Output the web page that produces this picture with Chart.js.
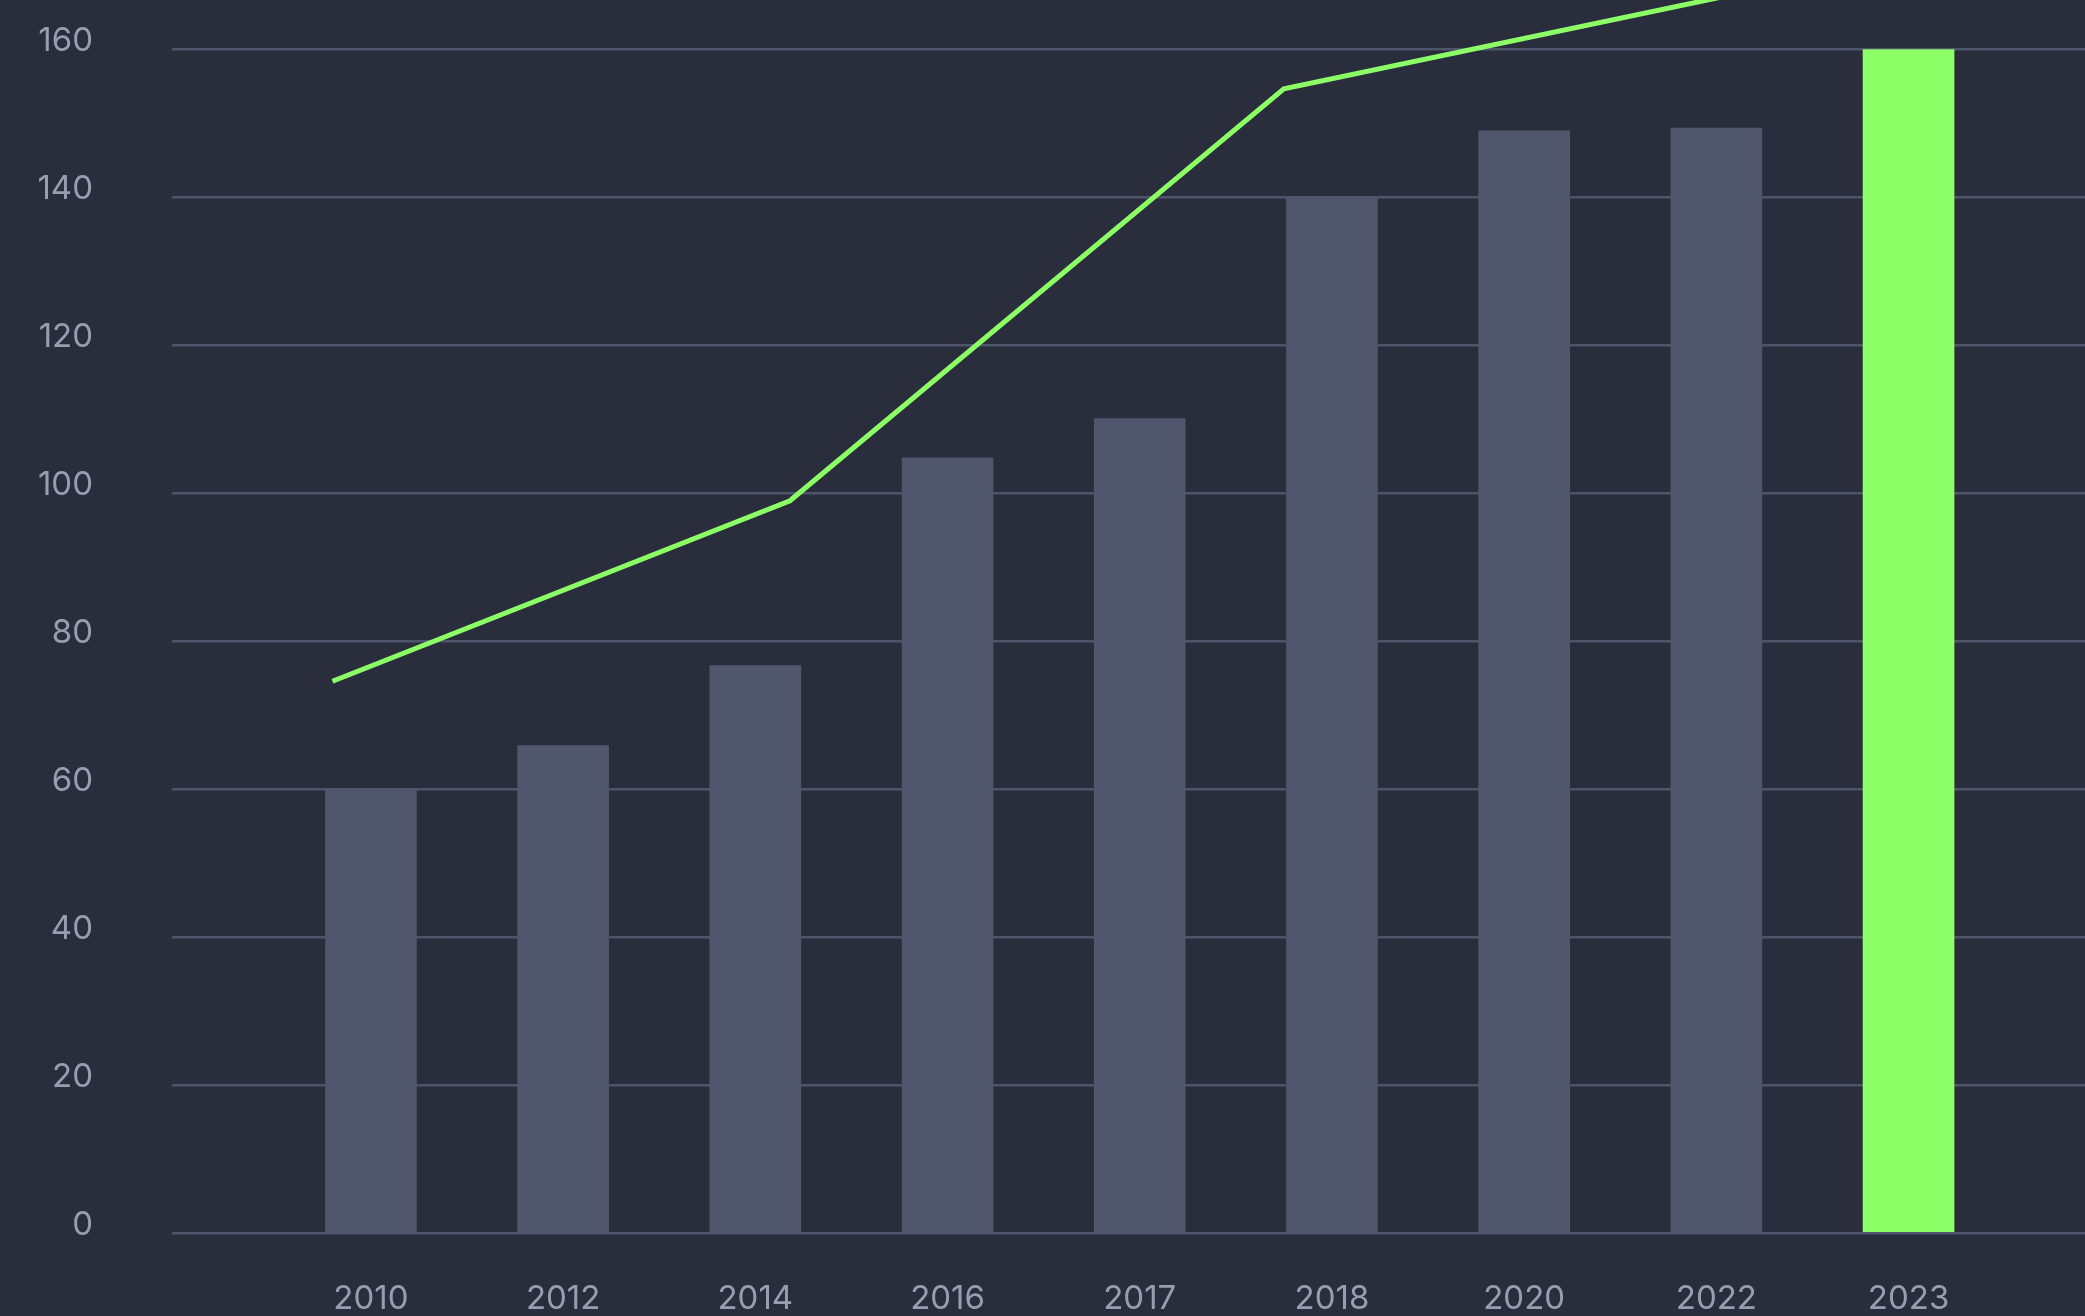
<!DOCTYPE html>
<html>
<head>
<meta charset="utf-8">
<script src="https://cdn.jsdelivr.net/npm/chart.js@4.4.0/dist/chart.umd.min.js"></script>
<style>
  html, body { margin: 0; padding: 0; background: #292d3c; }
  #wrap { width: 2085px; height: 1316px; position: relative; }
</style>
</head>
<body>
<div id="wrap"><canvas id="myChart"></canvas></div>
<script>
// categories and values
const years = ['2010', '2012', '2014', '2016', '2017', '2018', '2020', '2022', '2023'];
const barValues = [60, 65.9, 76.7, 104.8, 110.1, 139.9, 149.0, 149.4, 160];
// trend line, x given in category positions (0 = 2010 ... 8 = 2023)
const trendX = [-0.2, 2.18, 4.75, 8];
const trendValues = [74.6, 99.0, 154.7, 172.4];
const yTicks = [0, 20, 40, 60, 80, 100, 120, 140, 160];

const barColor = '#50566c';
const green = '#8cff66';
const gridColor = '#4f5569';
const labelColor = '#9a9db0';

Chart.defaults.font.family = 'Inter';
Chart.defaults.font.size = 33;
Chart.defaults.color = labelColor;

const ctx = document.getElementById('myChart');
const myChart = new Chart(ctx, {
    type: 'bar',
    data: {
        datasets: [{
            type: 'line',
            label: 'Trend',
            data: trendX.map((x, i) => ({ x: x, y: trendValues[i] })),
            borderColor: green,
            borderWidth: 5,
            pointRadius: 0,
            tension: 0,
            order: 0
        }, {
            label: 'Value',
            data: barValues.map((v, i) => ({ x: i, y: v })),
            backgroundColor: barValues.map((v, i) => i === years.length - 1 ? green : barColor),
            barThickness: 91,
            order: 1
        }]
    },
    options: {
        responsive: true,
        maintainAspectRatio: false,
        animation: false,
        layout: { padding: 0 },
        scales: {
            x: {
                type: 'linear',
                offset: false,
                min: -1.035,
                max: 8.918,
                grid: { display: false, drawTicks: false },
                border: { display: false },
                afterBuildTicks: (scale) => {
                    scale.ticks = years.map((y, i) => ({ value: i }));
                },
                afterFit: (scale) => {
                    scale.height = 83;
                    scale.paddingLeft = 0;
                    scale.paddingRight = 0;
                },
                ticks: {
                    padding: 46,
                    maxRotation: 0,
                    autoSkip: false,
                    callback: (v) => years[v]
                }
            },
            y: {
                min: 0,
                max: 166.7,
                grid: { color: gridColor, lineWidth: 2.5, drawTicks: false },
                border: { display: false },
                afterBuildTicks: (scale) => {
                    scale.ticks = yTicks.map(v => ({ value: v }));
                },
                afterFit: (scale) => {
                    scale.width = 172;
                    scale.paddingTop = 0;
                    scale.paddingBottom = 0;
                },
                ticks: {
                    padding: 79,
                    labelOffset: -8
                }
            }
        },
        plugins: {
            legend: { display: false },
            tooltip: { enabled: false },
            title: { display: false }
        }
    }
});
</script>
</body>
</html>
